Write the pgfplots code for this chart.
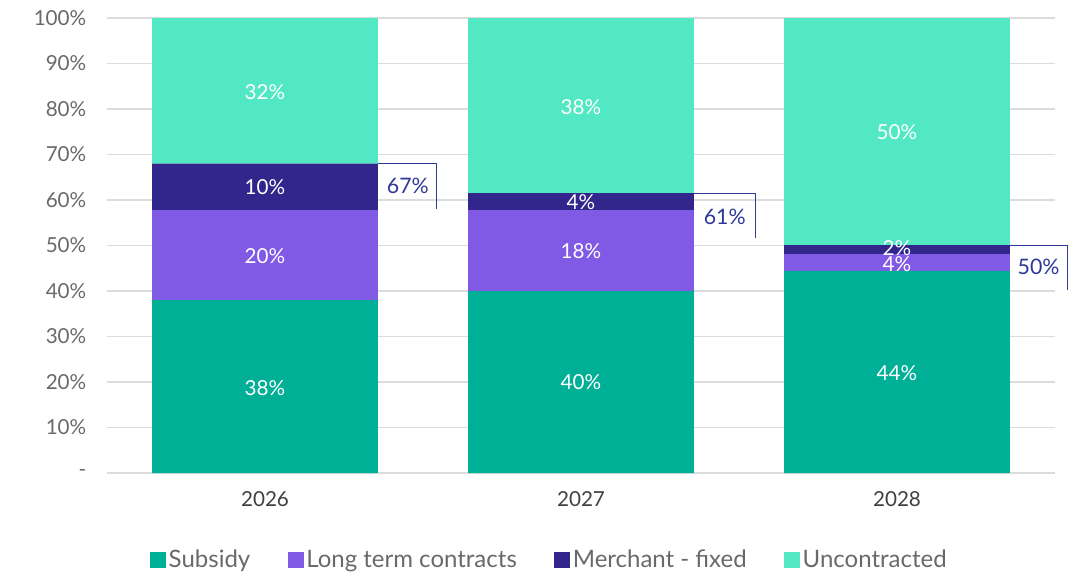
\documentclass[border=0pt]{standalone}
\usepackage{pgfplots}
\pgfplotsset{compat=1.18}
\usepackage{fontspec}
\setmainfont{Lato}
\definecolor{csub}{RGB}{0,176,150}
\definecolor{cltc}{RGB}{128,89,228}
\definecolor{cmer}{RGB}{50,38,140}
\definecolor{cunc}{RGB}{82,232,196}
\definecolor{cbr}{RGB}{46,56,150}
\definecolor{ctick}{RGB}{105,105,105}
\definecolor{cgrid}{RGB}{220,220,220}
\tikzset{inlab/.style={font=\fontsize{15.5}{17}\selectfont, text=white},
         brlab/.style={font=\fontsize{16}{18}\selectfont, text=cbr}}
\begin{document}
\begin{tikzpicture}
\begin{axis}[
  at={(0pt,0pt)}, anchor=south west,
  scale only axis,
  width=711pt, height=341.25pt,
  ybar stacked,
  bar width=0.715,
  xmin=-0.5, xmax=2.5,
  ymin=0, ymax=100,
  xtick={0,1,2},
  xticklabels={2026,2027,2028},
  ytick={0,10,...,100},
  yticklabels={-,10\%,20\%,30\%,40\%,50\%,60\%,70\%,80\%,90\%,100\%},
  ymajorgrids,
  grid style={cgrid, line width=0.9pt},
  axis line style={draw=none},
  major tick length=0pt,
  tick label style={font=\fontsize{15.5}{17}\selectfont, text=ctick},
  yticklabel style={xshift=-12pt},
  xticklabel style={yshift=-10pt, text=black!75},
  legend style={draw=none, fill=none, at={(0.467,-0.191)}, anchor=center,
    legend columns=4, font=\fontsize{18}{20}\selectfont, text=ctick,
    /tikz/every even column/.append style={column sep=26pt}},
  legend image code/.code={\fill[#1] (0pt,-6pt) rectangle (12pt,6pt);},
]
\addplot[fill=csub, draw=none] coordinates {(0,38) (1,40) (2,44.4)};
\addplot[fill=cltc, draw=none] coordinates {(0,19.8) (1,17.8) (2,3.7)};
\addplot[fill=cmer, draw=none] coordinates {(0,10.2) (1,3.7) (2,2.0)};
\addplot[fill=cunc, draw=none] coordinates {(0,32) (1,38.5) (2,49.9)};
\legend{Subsidy, Long term contracts, Merchant - fixed, Uncontracted}

\coordinate (a1) at (axis cs:0,18.7);
\coordinate (a2) at (axis cs:0,47.7);
\coordinate (a3) at (axis cs:0,62.9);
\coordinate (a4) at (axis cs:0,83.7);
\coordinate (b1) at (axis cs:1,20);
\coordinate (b2) at (axis cs:1,48.8);
\coordinate (b3) at (axis cs:1,59.6);
\coordinate (b4) at (axis cs:1,80.4);
\coordinate (c1) at (axis cs:2,22);
\coordinate (c2) at (axis cs:2,45.9);
\coordinate (c3) at (axis cs:2,49.5);
\coordinate (c4) at (axis cs:2,74.9);
\coordinate (p1) at (axis cs:0.3576,68);
\coordinate (q1) at (axis cs:0.544,58.1);
\coordinate (p2) at (axis cs:1.3576,61.5);
\coordinate (q2) at (axis cs:1.553,51.6);
\coordinate (p3) at (axis cs:2.3576,50.1);
\coordinate (q3) at (axis cs:2.54,40.2);
\coordinate (t1) at (axis cs:0.452,63.2);
\coordinate (t2) at (axis cs:1.455,56.3);
\coordinate (t3) at (axis cs:2.448,45.2);
\end{axis}
\node[inlab] at (a1) {38\%};
\node[inlab] at (a2) {20\%};
\node[inlab] at (a3) {10\%};
\node[inlab] at (a4) {32\%};
\node[inlab] at (b1) {40\%};
\node[inlab] at (b2) {18\%};
\node[inlab] at (b3) {4\%};
\node[inlab] at (b4) {38\%};
\node[inlab] at (c1) {44\%};
\node[inlab] at (c2) {4\%};
\node[inlab] at (c3) {2\%};
\node[inlab] at (c4) {50\%};
\draw[cbr, line width=0.8pt] (p1) -| (q1);
\draw[cbr, line width=0.8pt] (p2) -| (q2);
\draw[cbr, line width=0.8pt] (p3) -| (q3);
\node[brlab] at (t1) {67\%};
\node[brlab] at (t2) {61\%};
\node[brlab] at (t3) {50\%};
\pgfresetboundingbox
\path (-80.25pt,-74.25pt) rectangle (729pt,354.75pt);
\end{tikzpicture}
\end{document}
